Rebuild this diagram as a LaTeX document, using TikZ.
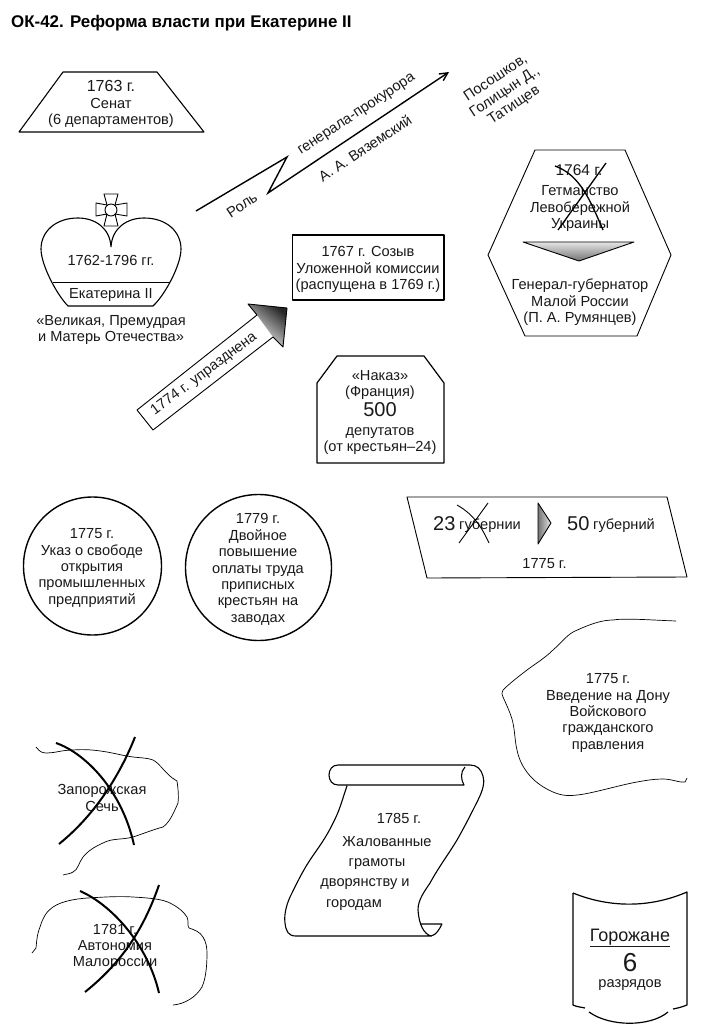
\documentclass[tikz,border=0pt]{standalone}
\usepackage{fontspec}
\setmainfont{Liberation Sans}
\usetikzlibrary{calc,arrows.meta}
\tikzset{
  ln/.style={draw=black,line width=0.9pt,line join=round},
  hair/.style={draw=black,line width=0.7pt},
  thick cross/.style={draw=black,line width=2pt},
  thin cross/.style={draw=black,line width=0.9pt},
  txt/.style={align=center,font=\fontsize{14.6}{16.4}\selectfont,inner sep=0pt,text=black!90},
  big/.style={align=center,font=\fontsize{20}{24}\selectfont,inner sep=0pt,text=black!90},
}
\begin{document}
\begin{tikzpicture}[x=1pt,y=-1pt]
\useasboundingbox (0,0) rectangle (714,1024);
\fill[white] (0,0) rectangle (714,1024);
% title
\node[anchor=west,inner sep=0pt,font=\fontsize{16.9}{18}\selectfont\bfseries] (title) at (11,23) {ОК-42. Реформа власти при Екатерине II};
% senat
\draw[ln,line width=1.1pt] (63,72) -- (157,72) -- (204,132) -- (19,132) -- cycle;
\node[txt] (senat1) at (111,85.5) {\fontsize{16}{17}\selectfont 1763 г.};
\node[txt] (senat) at (111,113) {Сенат\\(6 департаментов)};
% crown
\draw[ln,line width=1.1pt] (111,247) .. controls (110,228) and (95,218) .. (78,218)
  .. controls (55,218) and (41,232) .. (41,249)
  .. controls (41,265) and (57,295) .. (68,306) -- (153,306)
  .. controls (165,295) and (181,265) .. (181,249)
  .. controls (181,232) and (167,218) .. (144,218)
  .. controls (127,218) and (112,228) .. (111,247);
\draw[ln] (53,282) -- (170,282);
\draw[ln,fill=white] (104,194) -- (118,194) -- (115,205) -- (127,203) -- (127,216) -- (115,214) -- (118,226) -- (104,226) -- (107,214) -- (96,216) -- (96,203) -- (107,205) -- cycle;
\draw[ln] (111,210) circle (6);
\node[txt] (years) at (111,260) {1762-1796 гг.};
\node[txt] (ek) at (111,295) {Екатерина II};
\node[txt] (vel) at (111,330) {«Великая, Премудрая\\и Матерь Отечества»};
% zigzag arrow
\coordinate (za) at (196,211);
\coordinate (zb) at (287,157);
\coordinate (zc) at (268,193);
\coordinate (zd) at (449,72);
\draw[draw=black,line width=1.4pt,line join=miter,-{Straight Barb[length=8pt,width=8pt]}] (za) -- (zb) -- (zc) -- (zd);
\node[txt,rotate=33.5] (rol) at (242,205) {Роль};
\node[txt,rotate=33.5] (gen) at (357,115) {генерала-прокурора};
\node[txt,rotate=33.5] (vya) at (365,148) {А. А. Вяземский};
\node[txt,rotate=33.5] (pos) at (505,92) {Посошков,\\Голицын Д.,\\Татищев};
% komissia
\draw[ln,line width=1.2pt] (292.5,235) rectangle (444,300);
\node[txt] (kom) at (368,269.5) {1767 г. Созыв\\Уложенной комиссии\\(распущена в 1769 г.)};
% block arrow
\coordinate (a1) at (137,410);
\coordinate (a2) at (257,315);
\coordinate (a3) at (248,304);
\coordinate (a4) at (287,308);
\coordinate (a5) at (283,347);
\coordinate (a6) at (273,337);
\coordinate (a7) at (153,430);
\path[top color=black!85,bottom color=white,shading angle=-40] (a2) -- (a3) -- (a4) -- (a5) -- (a6) -- cycle;
\draw[ln] (a1) -- (a2) -- (a3) -- (a4) -- (a5) -- (a6) -- (a7) -- cycle;
\node[txt,rotate=36.7] (upr) at (204,374) {1774 г. упразднена};
% hexagon
\draw[ln] (535,150) -- (625,150) -- (671,255) -- (637,336) -- (525,336) -- (488,255) -- cycle;
\node[txt] (het0) at (579,170) {\fontsize{15.5}{16}\selectfont 1764 г.};
\node[txt] (het) at (580,208.5) {Гетманство\\Левобережной\\Украины};
\draw[thin cross,line width=1.3pt] (555,166) .. controls (580,175) and (590,200) .. (603,230);
\draw[thin cross,line width=1.3pt] (606,163) -- (558,230);
\path[top color=black!10,bottom color=black!55] (523,242) -- (634,242) -- (579,261) -- cycle;
\draw[ln] (523,242) -- (634,242) -- (579,261) -- cycle;
\node[txt] (gg) at (580,302.5) {Генерал-губернатор\\Малой России\\(П. А. Румянцев)};
% nakaz
\draw[ln,line width=1.2pt] (337,356) -- (424,356) -- (444,383) -- (444,463) -- (317,463) -- (317,383) -- cycle;
\node[txt] (nak1) at (380,385) {«Наказ»\\(Франция)};
\node[big] (nak2) at (380,410) {500};
\node[txt] (nak3) at (380,441) {депутатов\\(от крестьян–24)};
% circles
\draw[ln,line width=1.4pt] (92.5,566) circle (69);
\node[txt] (c1) at (92,568) {1775 г.\\Указ о свободе\\открытия\\промышленных\\предприятий};
\draw[ln,line width=1.4pt] (258.5,567.5) circle (73);
\node[txt] (c2) at (258,569.5) {1779 г.\\Двойное\\повышение\\оплаты труда\\приписных\\крестьян на\\заводах};
% gubernii
\draw[ln] (407,497) -- (667,497) -- (687,577) -- (427,578) -- cycle;
\node[big,anchor=west] (g23) at (433,524) {23};
\node[txt,anchor=west] (g23b) at (459,526) {губернии};
\draw[thin cross] (457,505) .. controls (475,515) and (483,530) .. (489,543);
\draw[thin cross] (488,503) -- (459,543);
\path[left color=black!55,right color=black!10] (538,503) -- (551,523) -- (538,544) -- cycle;
\draw[ln] (538,503) -- (551,523) -- (538,544) -- cycle;
\node[big,anchor=west] (g50) at (567,524) {50};
\node[txt,anchor=west] (g50b) at (593,526) {губерний};
\node[txt] (g75) at (544.5,564) {1775 г.};
% don
\draw[hair] (676,621) .. controls (650,620) and (625,618) .. (613,620)
  .. controls (602,620) and (590,624) .. (573,632)
  .. controls (565,637) and (560,644) .. (553,650)
  .. controls (545,658) and (535,664) .. (527,670)
  .. controls (518,677) and (510,683) .. (503,690)
  .. controls (501,692) and (502,695) .. (503,697)
  .. controls (507,706) and (511,714) .. (513,723)
  .. controls (515,733) and (515,742) .. (517,750)
  .. controls (520,765) and (530,782) .. (553,792)
  .. controls (562,796) and (570,796) .. (577,795)
  .. controls (590,794) and (620,785) .. (637,782)
  .. controls (648,780) and (655,779) .. (663,779)
  .. controls (672,779) and (680,783) .. (685,782) -- (687,778);
\node[txt] (don) at (608,713) {1775 г.\\Введение на Дону\\Войскового\\гражданского\\правления};
% sech
\draw[hair] (36,747) .. controls (40,752) and (42,753) .. (47,753)
  .. controls (55,753) and (62,750) .. (73,750)
  .. controls (85,749) and (95,750) .. (107,752)
  .. controls (118,754) and (125,756) .. (133,757)
  .. controls (142,758) and (148,758) .. (153,760)
  .. controls (160,764) and (163,770) .. (167,773)
  .. controls (170,777) and (174,779) .. (177,781)
  .. controls (178,788) and (179,796) .. (178,803)
  .. controls (174,812) and (170,822) .. (163,827)
  .. controls (155,829) and (145,833) .. (133,837)
  .. controls (122,840) and (112,838) .. (103,843)
  .. controls (94,847) and (88,851) .. (83,857)
  .. controls (79,862) and (78,870) .. (73,872)
  .. controls (70,874) and (66,874) .. (63,875);
\node[txt] (sech) at (102,798) {Запорожская\\Сечь};
\draw[thick cross] (56,743) .. controls (85,753) and (122,790) .. (134,845);
\draw[thick cross] (135,737) .. controls (120,775) and (95,815) .. (59,844);
% avton
\draw[hair] (32,953) -- (36,948) .. controls (37,938) and (37,935) .. (40,927)
  .. controls (43,917) and (47,911) .. (53,907)
  .. controls (62,901) and (75,899) .. (87,898)
  .. controls (105,897) and (120,896) .. (133,897)
  .. controls (150,898) and (162,899) .. (170,903)
  .. controls (178,907) and (184,912) .. (187,917)
  .. controls (189,921) and (187,926) .. (189,928)
  .. controls (195,930) and (200,932) .. (203,937)
  .. controls (206,942) and (207,947) .. (207,953)
  .. controls (207,965) and (206,978) .. (202,987)
  .. controls (196,997) and (185,1004) .. (173,1005);
\node[txt] (avt) at (115,947) {1781 г.\\Автономия\\Малороссии};
\draw[thick cross] (80,891) .. controls (112,905) and (148,945) .. (159,993);
\draw[thick cross] (159,885) .. controls (145,925) and (125,960) .. (85,992);
% scroll
\draw[ln,line width=1.1pt] (347,786) .. controls (342,800) and (340,810) .. (333,823)
  .. controls (326,838) and (318,848) .. (310,860)
  .. controls (302,872) and (296,885) .. (290,897)
  .. controls (286,906) and (284,915) .. (285,923)
  .. controls (286,931) and (288,936) .. (296,936) -- (431,936)
  .. controls (424,934) and (419,925) .. (418,910)
  .. controls (418,900) and (424,892) .. (430,883)
  .. controls (440,865) and (448,855) .. (457,840)
  .. controls (465,826) and (472,812) .. (478,800)
  .. controls (483,790) and (485,782) .. (483,776)
  .. controls (481,769) and (477,765) .. (470,765) -- (338,765)
  .. controls (326,765) and (326,785) .. (338,785) -- (464,785)
  .. controls (461,780) and (460,772) .. (465,767);
\draw[ln,line width=1.1pt] (420,924) -- (442,924) .. controls (439,930) and (436,935) .. (431,936);
\node[txt] (s1) at (399,818.5) {1785 г.};
\node[txt] (s2) at (387,842) {Жалованные};
\node[txt] (s3) at (377,864.5) {грамоты};
\node[txt] (s4) at (365,884.5) {дворянству и};
\node[txt] (s5) at (354,905.5) {городам};
% gorozhane
\draw[ln,line width=1.2pt] (573,893) .. controls (610,908) and (650,908) .. (687,892) -- (687,1005)
  .. controls (682,1007) and (678,1008) .. (673,1009);
\draw[ln,line width=1.2pt] (573,893) -- (573,1005) .. controls (577,1007) and (581,1007) .. (585,1008);
\draw[ln,line width=1.2pt] (589,1012) .. controls (610,1027) and (650,1027) .. (668,1012);
\node[inner sep=0pt,align=center,font=\fontsize{18}{20}\selectfont,text=black!90] (gor) at (630,938) {\underline{Горожане}};
\node[big,font=\fontsize{26}{30}\selectfont] (g6) at (630,963) {6};
\node[txt] (raz) at (630,985) {разрядов};
\end{tikzpicture}
\end{document}
